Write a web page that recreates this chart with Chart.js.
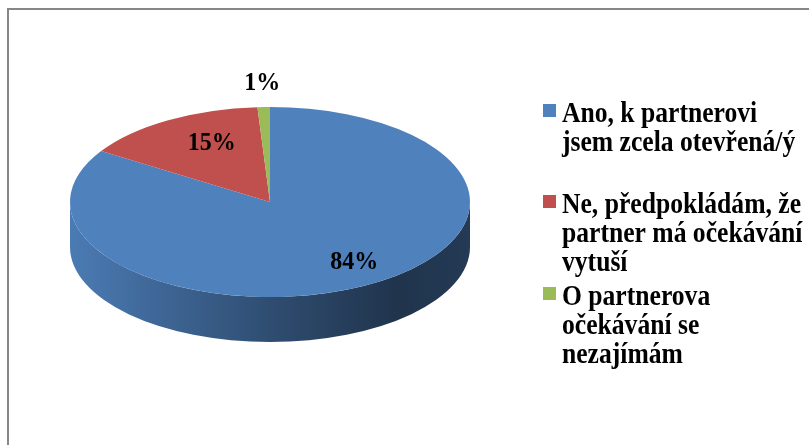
<!DOCTYPE html>
<html>
<head>
<meta charset="utf-8">
<script src="https://cdn.jsdelivr.net/npm/chart.js@4/dist/chart.umd.min.js"></script>
<style>
  html, body { margin: 0; padding: 0; background: #fff; overflow: hidden; }
  #wrap { position: relative; width: 809px; height: 445px; }
  #frame { position: absolute; left: 7px; top: 8px; width: 820px; height: 460px;
           border-top: 2px solid #878787; border-left: 2px solid #878787; }
  canvas { position: absolute; left: 0; top: 0; }
</style>
</head>
<body>
<div id="wrap">
  <div id="frame"></div>
  <canvas id="pie" width="809" height="445"></canvas>
</div>
<script>
const labels = [
    ['Ano, k partnerovi', 'jsem zcela otevřená/ý'],
    ['Ne, předpokládám, že', 'partner má očekávání', 'vytuší'],
    ['O partnerova', 'očekávání se', 'nezajímám']
];
const values = [84, 15, 1];
const colors = ['#4f81bd', '#c0504d', '#9bbb59'];

const TILT = 0.475;   // vertical squash of the pie
const DEPTH = 45;     // height of the side wall
const FONT = '"Liberation Serif", "Times New Roman", serif';

function rgb(hex, f) {
    const n = parseInt(hex.slice(1), 16);
    const r = Math.round(((n >> 16) & 255) * f);
    const g = Math.round(((n >> 8) & 255) * f);
    const b = Math.round((n & 255) * f);
    return 'rgb(' + r + ',' + g + ',' + b + ')';
}

// parts of an arc that face the viewer (canvas angles 0..PI)
function frontParts(a1, a2) {
    const out = [];
    for (let k = -1; k <= 2; k++) {
        const lo = Math.max(a1, k * 2 * Math.PI);
        const hi = Math.min(a2, k * 2 * Math.PI + Math.PI);
        if (hi > lo) out.push([lo, hi]);
    }
    return out;
}

const pie3d = {
    id: 'pie3d',
    beforeDatasetsDraw(chart) {
        const ctx = chart.ctx;
        const meta = chart.getDatasetMeta(0);
        meta.data.forEach((arc, i) => {
            const p = arc.getProps(['x', 'y', 'startAngle', 'endAngle', 'outerRadius'], true);
            const r = p.outerRadius, ry = r * TILT;
            const base = chart.data.datasets[0].backgroundColor[i];
            frontParts(p.startAngle, p.endAngle).forEach(([a, b]) => {
                const g = ctx.createLinearGradient(p.x - r, 0, p.x + r, 0);
                g.addColorStop(0, rgb(base, 0.95));
                g.addColorStop(0.5, rgb(base, 0.6));
                g.addColorStop(0.82, rgb(base, 0.4));
                g.addColorStop(1, rgb(base, 0.45));
                ctx.beginPath();
                ctx.ellipse(p.x, p.y, r, ry, 0, a, b);
                ctx.ellipse(p.x, p.y + DEPTH, r, ry, 0, b, a, true);
                ctx.closePath();
                ctx.fillStyle = g;
                ctx.fill();
            });
        });
        const cy = meta.data[0].y;
        ctx.save();
        ctx.translate(0, cy);
        ctx.scale(1, TILT);
        ctx.translate(0, -cy);
    },
    afterDatasetsDraw(chart) {
        const ctx = chart.ctx;
        ctx.restore();
        const meta = chart.getDatasetMeta(0);
        const data = chart.data.datasets[0].data;
        const total = data.reduce((s, v) => s + v, 0);
        ctx.save();
        ctx.font = 'bold 24px ' + FONT;
        ctx.fillStyle = '#000';
        ctx.textAlign = 'center';
        ctx.textBaseline = 'middle';
        meta.data.forEach((arc, i) => {
            const p = arc.getProps(['x', 'y', 'startAngle', 'endAngle', 'outerRadius'], true);
            const pct = data[i] / total * 100;
            const mid = (p.startAngle + p.endAngle) / 2;
            const outside = pct < 5;
            const d = p.outerRadius * (outside ? 1.25 : 0.72);
            const lx = p.x + Math.cos(mid) * d + (outside ? 0 : 15);
            const ly = p.y + Math.sin(mid) * d * TILT;
            ctx.save();
            ctx.translate(lx, ly);
            ctx.scale(1, 1.08);
            ctx.fillText(Math.round(pct) + '%', 0, 0);
            ctx.restore();
        });
        ctx.restore();
    },
    afterDraw(chart) {
        // legend on the right
        const ctx = chart.ctx;
        const tops = [122, 213, 305];
        const lineH = 29;
        ctx.save();
        ctx.font = 'bold 26px ' + FONT;
        ctx.textBaseline = 'alphabetic';
        ctx.textAlign = 'left';
        chart.data.labels.forEach((lines, i) => {
            ctx.fillStyle = chart.data.datasets[0].backgroundColor[i];
            ctx.fillRect(543, tops[i] - 18, 13, 13);
            ctx.fillStyle = '#000';
            lines.forEach((t, j) => {
                ctx.save();
                ctx.translate(562, tops[i] + j * lineH);
                ctx.scale(0.985, 1.14);
                ctx.fillText(t, 0, 0);
                ctx.restore();
            });
        });
        ctx.restore();
    }
};

new Chart(document.getElementById('pie'), {
    type: 'pie',
    data: {
        labels: labels,
        datasets: [{
            data: values,
            backgroundColor: colors,
            borderWidth: 0
        }]
    },
    options: {
        responsive: false,
        animation: false,
        events: [],
        layout: { padding: { left: 70, right: 339, top: 2, bottom: 43 } },
        plugins: {
            legend: { display: false },
            tooltip: { enabled: false }
        }
    },
    plugins: [pie3d]
});
</script>
</body>
</html>
